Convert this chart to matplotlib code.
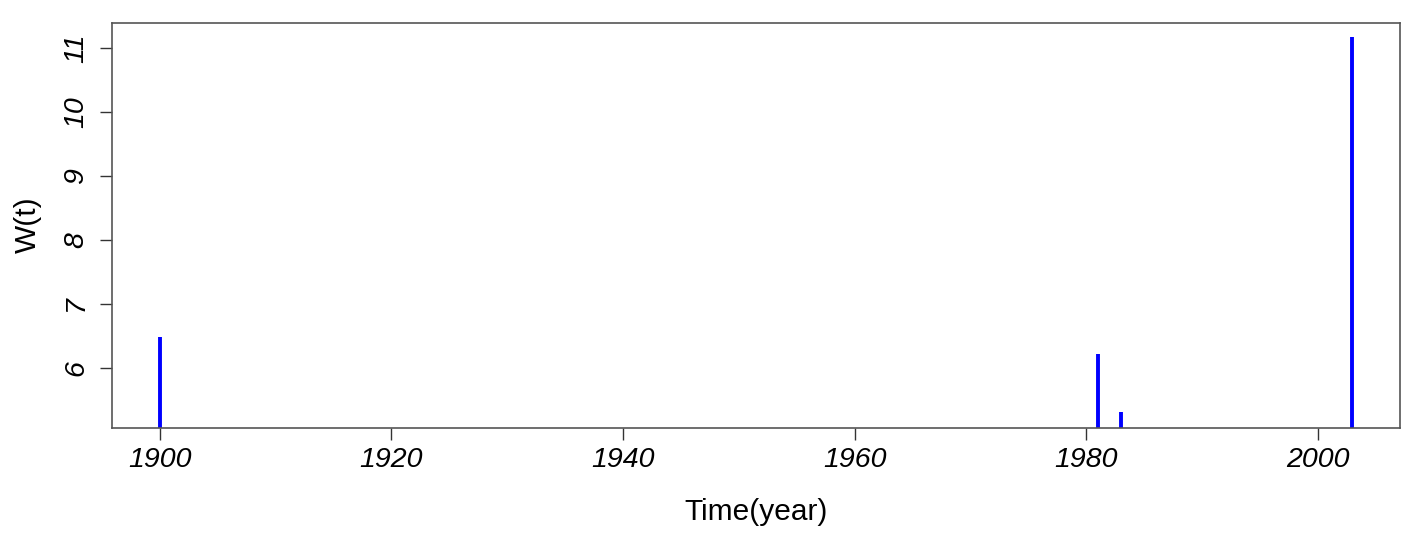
import matplotlib
matplotlib.use("Agg")
import matplotlib.pyplot as plt

# event years and W(t) values
years = [1900, 1981, 1983, 2003]
w_values = [6.48, 6.21, 5.31, 11.18]
y_ticks = [6, 7, 8, 9, 10, 11]
x_ticks = [1900, 1920, 1940, 1960, 1980, 2000]

plt.rcParams["font.family"] = ["Liberation Sans", "DejaVu Sans"]

fig = plt.figure(figsize=(14.21, 5.36), dpi=100)
ax = fig.add_axes([0.0790, 0.2009, 0.9852 - 0.0790, 0.9576 - 0.2009])

# R style type="h": vertical lines from zero, clipped by the axes
ax.vlines(years, 0, w_values, color="#0000ff", linewidth=2.8)

ax.set_xlim(1895.88, 2007.11)
ax.set_ylim(5.052, 11.40)
ax.set_xticks(x_ticks)
ax.set_yticks(y_ticks)
ax.set_xticklabels([str(t) for t in x_ticks], fontsize=20.5, style="italic")
ax.set_yticklabels([str(t) for t in y_ticks], fontsize=20.5, style="italic",
                   rotation=90, va="center")

ax.tick_params(axis="both", direction="out", length=8.6, width=1.0,
               color="#333333")
ax.tick_params(axis="x", pad=4.5)
ax.tick_params(axis="y", pad=8)

for s in ax.spines.values():
    s.set_color("#555555")
    s.set_linewidth(1.2)

ax.set_xlabel("Time(year)", fontsize=21.5, va="center")
ax.xaxis.set_label_coords(0.5, -0.206)
ax.set_ylabel("W(t)", fontsize=21.5, va="center")
ax.yaxis.set_label_coords(-0.0655, 0.501)

fig.savefig("out.png", dpi=100)
